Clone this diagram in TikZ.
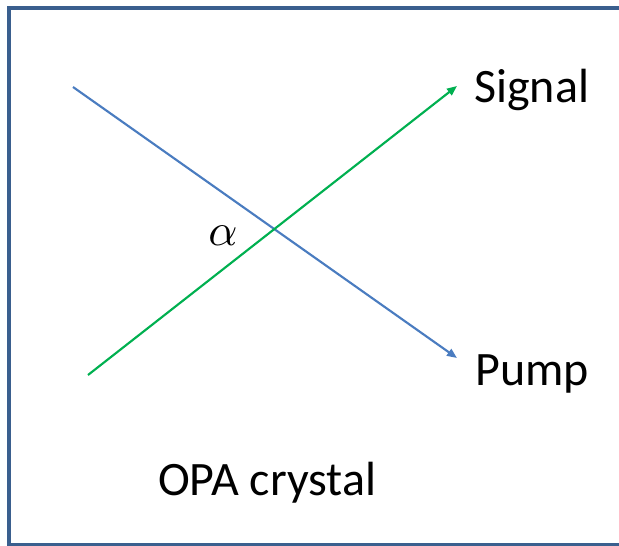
\documentclass[tikz,border=0pt]{standalone}
\usepackage{amsmath,amssymb}
\usepackage{bm}
\usepackage{fontspec}
\setmainfont{Carlito}
\usepackage{tikz}
\usetikzlibrary{arrows.meta,positioning}
\definecolor{framecol}{HTML}{3A5F8E}
\definecolor{pumpcol}{HTML}{4A7CC0}
\definecolor{sigcol}{HTML}{00B050}

\begin{document}
\begin{tikzpicture}[x=0.75pt, y=-0.75pt,
    beam/.style={line width=1.6pt, -{Triangle[length=7.5pt, width=6pt]}},
    label/.style={font=\fontsize{36}{43}\selectfont, inner sep=0pt}
]
    \useasboundingbox (0,0) rectangle (619,546);
    % crystal frame (right side runs off the page)
    \draw[framecol, line width=3pt] (9,7.5) rectangle (640,544.5);

    % beam ends
    \coordinate (pumpin)  at (73,87);
    \coordinate (pumpout) at (457,358);
    \coordinate (sigin)   at (88,375);
    \coordinate (sigout)  at (457,86);

    % beams
    \draw[beam, pumpcol] (pumpin) -- (pumpout);
    \draw[beam, sigcol]  (sigin) -- (sigout);

    % labels
    \node[label, anchor=base west] (signal) at (474,103) {Signal};
    \node[label, anchor=base west] (pump)   at (475,385) {Pump};
    \node[label, anchor=base] (crystal) at (267,495) {OPA crystal};
    \node[inner sep=0pt] (angle) at (223,236) {\scalebox{3.4}{$\alpha$}};
\end{tikzpicture}
\end{document}
